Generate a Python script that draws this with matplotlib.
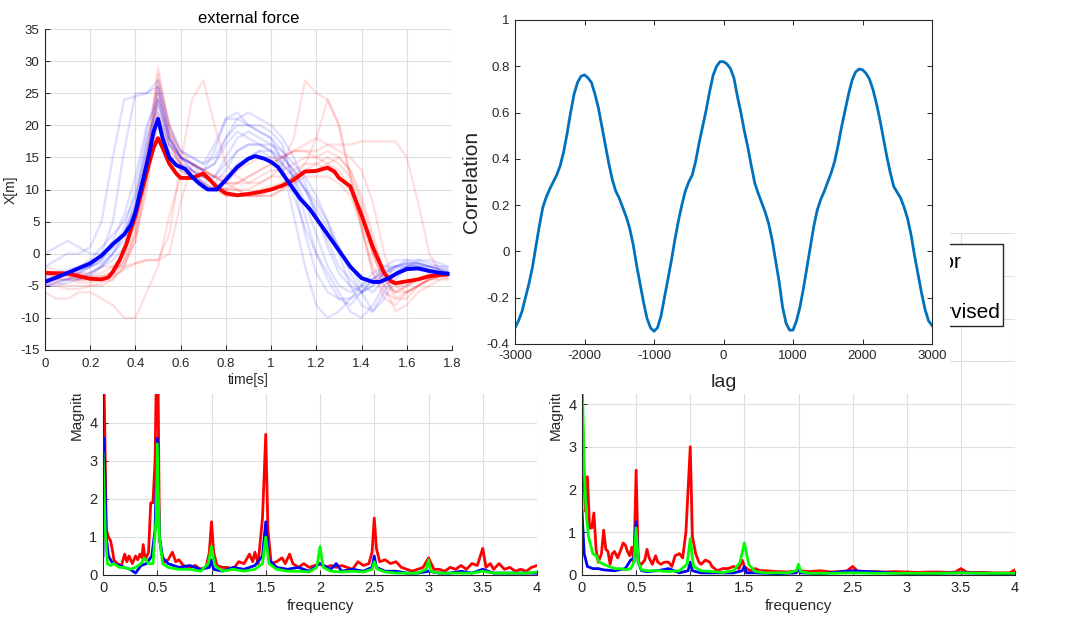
import matplotlib
matplotlib.use('Agg')
import matplotlib.pyplot as plt
from matplotlib.patches import Rectangle
from matplotlib.ticker import FuncFormatter

W, H = 1069, 622
plt.rcParams['font.family'] = ['Liberation Sans', 'DejaVu Sans']

# ---------------- top-left: external force ----------------
T_MEAN_BLUE = [0, 0.1, 0.2, 0.25, 0.3, 0.35, 0.38, 0.4, 0.43, 0.46, 0.48, 0.5, 0.52, 0.55, 0.58,
               0.62, 0.65, 0.68, 0.72, 0.76, 0.8, 0.85, 0.9, 0.93, 0.97, 1.0, 1.03, 1.07, 1.1,
               1.13, 1.17, 1.2, 1.25, 1.3, 1.35, 1.4, 1.45, 1.48, 1.52, 1.56, 1.6, 1.65, 1.7,
               1.75, 1.78]
X_MEAN_BLUE = [-4.4, -3.0, -1.5, -0.3, 1.5, 3.0, 4.5, 6.5, 11, 15.5, 19, 21, 18, 15, 13.8,
               13.2, 12, 11, 10, 10, 11.5, 13.5, 14.8, 15.2, 14.8, 14.3, 13.5, 11.5, 10,
               8.5, 7, 5.5, 3, 0.5, -2, -3.8, -4.4, -4.4, -3.8, -3.0, -2.4, -2.3, -2.7,
               -3.0, -3.1]

T_MEAN_RED = [0, 0.1, 0.15, 0.2, 0.25, 0.28, 0.3, 0.33, 0.36, 0.4, 0.43, 0.46, 0.48, 0.5, 0.52,
              0.55, 0.58, 0.6, 0.65, 0.68, 0.7, 0.73, 0.76, 0.8, 0.85, 0.9, 0.95, 1.0, 1.05,
              1.1, 1.15, 1.2, 1.25, 1.28, 1.3, 1.35, 1.4, 1.45, 1.5, 1.53, 1.55, 1.6, 1.65,
              1.7, 1.75, 1.78]
X_MEAN_RED = [-3, -3.1, -3.5, -3.9, -4.0, -3.7, -2.8, -1, 1.5, 6, 10, 14, 16.5, 18, 16.5,
              14, 12.5, 11.8, 11.8, 12.2, 12.5, 11.5, 10.3, 9.4, 9.1, 9.3, 9.6, 10, 10.6,
              11.5, 12.8, 12.9, 13.4, 12.8, 11.8, 10.5, 6, 1, -3, -4.3, -4.6, -4.3, -4,
              -3.5, -3.3, -3.2]

T_TRIAL = [0, 0.05, 0.1, 0.15, 0.2, 0.25, 0.3, 0.35, 0.4, 0.45, 0.5, 0.55, 0.6, 0.65, 0.7,
           0.75, 0.8, 0.85, 0.9, 0.95, 1.0, 1.05, 1.1, 1.15, 1.2, 1.25, 1.3, 1.35, 1.4, 1.45,
           1.5, 1.55, 1.6, 1.65, 1.7, 1.75, 1.78]

BLUE_TRIALS = [
    [-2, -1, 0, 0, 1, 5, 15, 24, 24.5, 25, 27, 20, 16, 15, 14, 15, 18, 20, 20, 19, 18, 16, 12, 6, 0, -4, -7, -8, -6, -4, -2, -1, -1, -1.5, -2, -2, -2],
    [-4, -4, -3, -3, -2, 0, 5, 16, 25, 25, 26, 18, 15, 14, 13, 16, 21, 22, 20, 19, 18, 14, 6, -2, -8, -10, -9, -7, -5, -3, -2, -2, -2, -2, -2.5, -3, -3],
    [-5, -4.5, -4, -3, -2, -1, 2, 6, 12, 20, 24, 17, 15, 14, 12, 11, 13, 16, 17, 17, 16, 14, 12, 8, 3, -2, -5, -6, -5, -4, -3, -2.5, -2, -2, -2.5, -3, -3],
    [-3, -3, -2.5, -2, -1, 1, 3, 5, 9, 16, 22, 16, 14, 13, 11, 12, 15, 18, 19, 18, 17, 15, 13, 10, 6, 2, -2, -4, -6, -5, -3, -2, -1.5, -1.5, -2, -2.5, -3],
    [0, 1, 2, 1, 0, 0, 1, 3, 8, 18, 23, 18, 15, 14, 13, 14, 17, 19, 18, 17, 16, 13, 9, 4, 0, -3, -6, -9, -10, -8, -5, -3, -2, -1, -1, -1.5, -2],
    [-5, -5, -4.5, -4, -3.5, -2, 0, 3, 7, 14, 21, 17, 15, 13, 11, 10, 12, 14, 15, 16, 16, 15, 13, 10, 7, 4, 1, -2, -5, -6, -4, -2, -1, -1, -1.5, -2, -2.5],
    [-4, -3.5, -3, -2.5, -2, -1, 1, 4, 10, 19, 26, 19, 16, 15, 14, 17, 21, 21, 20, 20, 19, 17, 11, 3, -3, -6, -7, -7, -6, -4, -2.5, -2, -1.5, -2, -2, -2.5, -3],
    [-4.5, -4, -4, -3.5, -3, -2, -1, 1, 5, 13, 20, 15, 13, 12, 10, 10, 11, 13, 15, 16, 15, 14, 12, 10, 8, 5, 1, -3, -6, -9, -7, -4, -2, -1.5, -2, -2.5, -3],
    [-3.5, -3, -3, -2.5, -2, -1.5, 0, 2, 6, 15, 25, 18, 15, 14, 13, 14, 18, 21, 22, 21, 20, 18, 15, 11, 6, 1, -3, -5, -6, -5, -3, -2, -1.5, -1.5, -2, -2.5, -2.5],
    [-5, -4.5, -4, -4, -3, -2, 0, 3, 8, 17, 24, 18, 15, 13, 12, 12, 14, 16, 17, 17, 17, 16, 14, 12, 9, 5, 0, -5, -8, -9, -6, -3, -2, -2, -2.5, -3, -3.5],
]

RED_TRIALS = [
    [-4, -4, -4, -4.5, -4.5, -4, -3, 0, 6, 16, 28, 20, 15, 14, 13, 12, 12, 13, 14, 15, 15, 15, 16, 16, 15, 14, 13, 10, 4, -3, -7, -8, -6, -5, -4, -3.5, -3],
    [-3, -3, -3, -3, -3, -2, -2, -2, -1.5, -1, -1, 3, 14, 24, 27, 20, 14, 12, 11, 11, 12, 12, 13, 14, 14, 13, 12, 10, 6, 0, -4, -6, -5, -4, -3, -3, -3],
    [-2, -2.5, -3, -3, -3.5, -3.5, -3, -1, 3, 12, 24, 17, 14, 13, 12, 11, 10, 10, 10, 11, 12, 14, 18, 27, 25, 24, 20, 12, 4, -2, -5, -6, -5, -4, -3.5, -3, -3],
    [-5, -5, -5.5, -5.5, -5, -5, -4, -2, 2, 10, 22, 17, 14, 12, 11, 10, 10, 11, 12, 13, 14, 15, 16, 16, 16, 17, 17, 17, 17.5, 17.5, 17.5, 17.5, 15, 8, 0, -3, -4],
    [-6, -7, -7, -6, -6, -7, -8, -10, -10, -6, -2, 6, 12, 13, 12, 11, 10, 10, 9, 9, 9, 10, 11, 12, 12, 12, 11, 9, 5, 0, -4, -6, -6, -5, -4, -4, -4],
    [-3, -3.5, -3.5, -4, -4, -4, -3.5, -1, 4, 14, 26, 18, 13, 12, 12, 11, 9, 9, 9, 9, 10, 11, 12, 13, 13, 14, 15, 13, 8, 2, -3, -5, -5, -4, -3.5, -3, -3],
    [-4, -4, -4, -4, -4, -4, -3.5, -2.5, -1.5, -1, -1, 0, 8, 14, 13, 12, 11, 10, 9, 9, 9, 10, 12, 14, 18, 24, 20, 12, 4, -3, -6, -7, -6, -5, -4, -3.5, -3.5],
    [-4.5, -4.5, -5, -5, -5, -4.5, -4, -2, 3, 13, 29, 19, 14, 12, 11, 10, 9, 9, 9.5, 10, 10.5, 11, 12, 13, 14, 15, 14, 12, 7, 0, -5, -9, -8, -6, -5, -4, -3.5],
    [-3.5, -3.5, -3.5, -4, -4, -3.5, -3, -1.5, 2, 11, 25, 19, 15, 14, 13, 12, 11, 11, 12, 13, 14, 15, 16, 17, 18, 17, 16, 15, 13, 8, 0, -5, -6, -5, -4, -3.5, -3],
    [-2.5, -3, -3, -3.5, -3.5, -3, -2, 0, 5, 15, 27, 20, 16, 14, 13, 12, 11, 11, 11, 12, 13, 13, 14, 15, 15, 16, 15, 13, 9, 3, -3, -7, -7, -5, -4, -3.5, -3],
]

# ---------------- top-right: correlation (sampled every 50 lags) ----------------
LAG = list(range(-3000, 3001, 50))
CORR = [
    -0.33, -0.30, -0.26, -0.20, -0.14, -0.07, 0.02, 0.11, 0.19, 0.235,          # -3000..-2550
    0.27, 0.30, 0.33, 0.37, 0.43, 0.51, 0.60, 0.68, 0.73, 0.757,               # -2500..-2050
    0.763, 0.75, 0.73, 0.68, 0.62, 0.54, 0.46, 0.38, 0.31, 0.26,               # -2000..-1550
    0.23, 0.19, 0.15, 0.10, 0.03, -0.06, -0.14, -0.22, -0.29, -0.33,           # -1500..-1050
    -0.345, -0.33, -0.28, -0.20, -0.12, -0.04, 0.05, 0.13, 0.20, 0.26,         # -1000..-550
    0.30, 0.33, 0.39, 0.47, 0.54, 0.61, 0.69, 0.76, 0.80, 0.82,                # -500..-50
    0.82,                                                                       # 0
    0.81, 0.79, 0.75, 0.67, 0.60, 0.52, 0.45, 0.37, 0.295, 0.25,               # 50..500
    0.21, 0.17, 0.12, 0.05, -0.04, -0.13, -0.24, -0.31, -0.34, -0.34,          # 550..1000
    -0.30, -0.24, -0.16, -0.07, 0.02, 0.11, 0.18, 0.225, 0.26, 0.30,           # 1050..1500
    0.34, 0.39, 0.46, 0.54, 0.61, 0.68, 0.74, 0.775, 0.788, 0.785,             # 1550..2000
    0.77, 0.745, 0.70, 0.64, 0.57, 0.49, 0.41, 0.34, 0.28, 0.255,              # 2050..2500
    0.23, 0.19, 0.14, 0.07, -0.02, -0.10, -0.18, -0.25, -0.30, -0.32,          # 2550..3000
]

# ---------------- bottom-left spectrum ----------------
BL_RED_F = [0, 0.01, 0.03, 0.05, 0.07, 0.09, 0.1, 0.13, 0.17, 0.2, 0.22, 0.24, 0.27, 0.3, 0.32,
            0.34, 0.36, 0.37, 0.39, 0.42, 0.44, 0.46, 0.48, 0.495, 0.505, 0.52, 0.54, 0.57,
            0.6, 0.64, 0.67, 0.7, 0.74, 0.8, 0.85, 0.9, 0.95, 0.98, 1.0, 1.02, 1.05, 1.1,
            1.15, 1.2, 1.25, 1.3, 1.35, 1.38, 1.4, 1.43, 1.47, 1.5, 1.52, 1.55, 1.6, 1.65,
            1.68, 1.72, 1.75, 1.8, 1.85, 1.9, 1.95, 2.0, 2.05, 2.1, 2.15, 2.2, 2.25, 2.3,
            2.35, 2.4, 2.45, 2.48, 2.5, 2.52, 2.55, 2.6, 2.65, 2.7, 2.75, 2.8, 2.85, 2.9,
            2.95, 3.0, 3.05, 3.1, 3.15, 3.2, 3.25, 3.3, 3.35, 3.4, 3.45, 3.5, 3.53, 3.57,
            3.6, 3.65, 3.7, 3.75, 3.8, 3.85, 3.9, 3.95, 4.0]
BL_RED_M = [6.0, 5.0, 1.2, 1.0, 0.9, 0.6, 0.4, 0.3, 0.25, 0.55, 0.35, 0.5, 0.3, 0.5, 0.4,
            0.55, 0.45, 0.8, 0.4, 0.6, 1.9, 1.9, 3.0, 6.0, 6.0, 1.0, 0.55, 0.35,
            0.4, 0.6, 0.35, 0.4, 0.25, 0.2, 0.25, 0.15, 0.2, 0.6, 1.4, 0.6, 0.25, 0.2,
            0.2, 0.15, 0.35, 0.3, 0.55, 0.35, 0.6, 0.3, 1.5, 3.7, 1.2, 0.3, 0.35, 0.45,
            0.3, 0.55, 0.3, 0.2, 0.3, 0.2, 0.25, 0.3, 0.2, 0.25, 0.2, 0.25, 0.2, 0.15,
            0.35, 0.25, 0.3, 0.6, 1.5, 0.7, 0.35, 0.4, 0.3, 0.35, 0.2, 0.15, 0.1, 0.15,
            0.2, 0.45, 0.15, 0.15, 0.1, 0.2, 0.15, 0.25, 0.15, 0.3, 0.25, 0.7, 0.2, 0.3,
            0.15, 0.3, 0.15, 0.2, 0.1, 0.15, 0.1, 0.2, 0.25]

BL_BLUE_F = [0, 0.01, 0.03, 0.05, 0.08, 0.1, 0.15, 0.2, 0.25, 0.3, 0.35, 0.4, 0.45, 0.48, 0.5,
             0.52, 0.55, 0.6, 0.65, 0.7, 0.8, 0.9, 0.98, 1.0, 1.02, 1.1, 1.2, 1.3, 1.4, 1.47,
             1.5, 1.53, 1.6, 1.7, 1.8, 1.9, 2.0, 2.1, 2.15, 2.2, 2.3, 2.4, 2.48, 2.5, 2.52,
             2.6, 2.7, 2.8, 2.9, 3.0, 3.1, 3.2, 3.3, 3.4, 3.5, 3.6, 3.7, 3.8, 3.9, 4.0]
BL_BLUE_M = [0.5, 3.6, 1.0, 0.5, 0.35, 0.3, 0.25, 0.2, 0.15, 0.05, 0.25, 0.3, 0.5, 1.2, 3.6,
             1.0, 0.45, 0.3, 0.25, 0.2, 0.25, 0.15, 0.2, 0.4, 0.15, 0.1, 0.2, 0.15, 0.25, 0.5,
             1.4, 0.4, 0.2, 0.15, 0.2, 0.1, 0.3, 0.15, 0.3, 0.1, 0.15, 0.1, 0.2, 0.5, 0.2,
             0.1, 0.1, 0.05, 0.05, 0.1, 0.05, 0.05, 0.1, 0.05, 0.15, 0.05, 0.05, 0.05, 0.05, 0.05]

BL_GREEN_F = [0, 0.02, 0.04, 0.07, 0.1, 0.15, 0.2, 0.25, 0.3, 0.35, 0.38, 0.42, 0.46, 0.49, 0.5,
              0.52, 0.55, 0.6, 0.7, 0.8, 0.9, 0.97, 1.0, 1.03, 1.1, 1.2, 1.3, 1.4, 1.47, 1.5,
              1.53, 1.6, 1.7, 1.8, 1.9, 1.97, 2.0, 2.03, 2.1, 2.2, 2.3, 2.4, 2.48, 2.5, 2.53,
              2.6, 2.7, 2.8, 2.9, 2.98, 3.0, 3.02, 3.1, 3.2, 3.3, 3.4, 3.5, 3.6, 3.7, 3.8,
              3.9, 4.0]
BL_GREEN_M = [3.2, 1.2, 0.3, 0.25, 0.3, 0.2, 0.2, 0.15, 0.2, 0.3, 0.45, 0.3, 0.3, 1.5, 3.45,
              1.0, 0.3, 0.2, 0.15, 0.15, 0.1, 0.3, 0.75, 0.25, 0.1, 0.15, 0.1, 0.15, 0.3, 1.0,
              0.3, 0.15, 0.1, 0.1, 0.08, 0.2, 0.75, 0.2, 0.1, 0.08, 0.1, 0.08, 0.15, 0.35, 0.15,
              0.08, 0.05, 0.05, 0.05, 0.15, 0.4, 0.1, 0.05, 0.05, 0.05, 0.05, 0.1, 0.05, 0.05, 0.05,
              0.05, 0.08]

# ---------------- bottom-right spectrum ----------------
BR_RED_F = [0, 0.01, 0.03, 0.05, 0.07, 0.09, 0.11, 0.13, 0.15, 0.18, 0.2, 0.22, 0.24, 0.26,
            0.28, 0.3, 0.33, 0.36, 0.38, 0.4, 0.42, 0.44, 0.46, 0.48, 0.5, 0.52, 0.55, 0.58,
            0.6, 0.62, 0.65, 0.68, 0.7, 0.73, 0.76, 0.8, 0.83, 0.86, 0.9, 0.93, 0.96, 1.0,
            1.02, 1.05, 1.08, 1.1, 1.14, 1.18, 1.2, 1.25, 1.3, 1.35, 1.4, 1.45, 1.48, 1.5,
            1.55, 1.6, 1.65, 1.7, 1.8, 1.9, 2.0, 2.1, 2.2, 2.3, 2.4, 2.45, 2.5, 2.55, 2.6,
            2.7, 2.8, 2.9, 3.0, 3.1, 3.2, 3.3, 3.4, 3.45, 3.5, 3.55, 3.6, 3.7, 3.8, 3.9,
            3.95, 4.0]
BR_RED_M = [4.2, 3.0, 1.5, 2.3, 1.1, 1.1, 1.45, 0.6, 0.3, 0.5, 1.05, 0.6, 0.55, 0.25,
            0.5, 0.55, 0.4, 0.6, 0.75, 0.7, 0.55, 0.45, 0.65, 0.3, 2.45, 0.3, 0.25, 0.35,
            0.6, 0.4, 0.25, 0.45, 0.3, 0.25, 0.3, 0.3, 0.2, 0.45, 0.5, 0.4, 1.0, 3.0,
            0.9, 0.5, 0.3, 0.25, 0.35, 0.3, 0.2, 0.1, 0.15, 0.15, 0.2, 0.15, 0.35, 0.2,
            0.1, 0.15, 0.1, 0.1, 0.08, 0.07, 0.1, 0.08, 0.1, 0.07, 0.08, 0.1, 0.2, 0.08, 0.07,
            0.08, 0.07, 0.08, 0.07, 0.06, 0.07, 0.07, 0.06, 0.07, 0.15, 0.07, 0.06, 0.06, 0.05, 0.05,
            0.05, 0.12]

BR_BLUE_F = [0, 0.02, 0.05, 0.1, 0.15, 0.2, 0.3, 0.4, 0.45, 0.48, 0.5, 0.52, 0.55, 0.6, 0.7,
             0.8, 0.9, 0.98, 1.0, 1.02, 1.1, 1.2, 1.3, 1.4, 1.48, 1.5, 1.52, 1.6, 1.8, 1.98,
             2.0, 2.02, 2.2, 2.5, 3.0, 3.5, 4.0]
BR_BLUE_M = [1.5, 0.5, 0.2, 0.15, 0.15, 0.12, 0.1, 0.15, 0.35, 0.4, 1.25, 0.3, 0.1, 0.08, 0.1,
             0.15, 0.05, 0.1, 0.3, 0.1, 0.05, 0.05, 0.05, 0.05, 0.1, 0.2, 0.05, 0.05, 0.03, 0.05,
             0.15, 0.05, 0.03, 0.1, 0.03, 0.05, 0.03]

BR_GREEN_F = [0, 0.005, 0.02, 0.04, 0.06, 0.08, 0.1, 0.13, 0.16, 0.2, 0.25, 0.3, 0.35, 0.4,
              0.45, 0.48, 0.5, 0.52, 0.55, 0.6, 0.7, 0.8, 0.9, 0.97, 1.0, 1.03, 1.1, 1.2, 1.3,
              1.4, 1.46, 1.5, 1.54, 1.6, 1.7, 1.8, 1.9, 1.98, 2.0, 2.02, 2.1, 2.3, 2.5, 2.7,
              3.0, 3.3, 3.5, 3.7, 4.0]
BR_GREEN_M = [3.0, 4.25, 2.5, 1.4, 0.9, 0.7, 0.5, 0.45, 0.3, 0.25, 0.2, 0.15, 0.15, 0.12,
              0.15, 0.3, 1.1, 0.3, 0.12, 0.1, 0.1, 0.08, 0.1, 0.25, 0.85, 0.2, 0.1, 0.08, 0.06,
              0.1, 0.3, 0.75, 0.25, 0.08, 0.05, 0.05, 0.05, 0.1, 0.25, 0.08, 0.04, 0.04, 0.05, 0.04,
              0.04, 0.04, 0.05, 0.04, 0.04]

LEGEND_LABELS = ['error', 'supervised']

# ---------------- drawing ----------------
DARK = '#262626'
GRID = '#dedede'

fig = plt.figure(figsize=(W / 100, H / 100), dpi=100)


def box(x0, y0, x1, y1):
    return [x0 / W, 1 - y1 / H, (x1 - x0) / W, (y1 - y0) / H]


def gfmt(v, pos):
    return f'{v:g}'


def low_fmt(v, pos):
    return f'{v:g}' if v <= 4 else ''


def matlab_axes(ax, tick_size, all_sides=False):
    ax.tick_params(direction='in', length=3.5, width=0.7, colors=DARK, labelsize=tick_size,
                   top=all_sides, right=all_sides, pad=4)
    for s in ax.spines.values():
        s.set_color(DARK)
        s.set_linewidth(0.8)
    if not all_sides:
        ax.spines['top'].set_visible(False)
        ax.spines['right'].set_visible(False)
    ax.xaxis.set_major_formatter(FuncFormatter(gfmt))
    ax.yaxis.set_major_formatter(FuncFormatter(gfmt))


def spectrum_axes(rect, ymax, series):
    ax = fig.add_axes(rect)
    ax.set_zorder(0)
    for f, m, c in series:
        ax.plot(f, m, color=c, lw=2.0)
    ax.set_xlim(0, 4)
    ax.set_ylim(0, ymax)
    ax.set_xticks([0, 0.5, 1, 1.5, 2, 2.5, 3, 3.5, 4])
    ax.set_yticks(range(0, ymax + 1))
    ax.grid(True, color=GRID, lw=0.8)
    ax.set_axisbelow(True)
    matlab_axes(ax, 10.5)
    ax.yaxis.set_major_formatter(FuncFormatter(low_fmt))
    ax.set_xlabel('frequency', fontsize=11, color=DARK, labelpad=3)
    ax.set_ylabel('Magnitude', fontsize=11, color=DARK, labelpad=4)
    return ax


axbl = spectrum_axes(box(103, 233, 537, 575), 9,
                     [(BL_RED_F, BL_RED_M, '#ff0000'), (BL_BLUE_F, BL_BLUE_M, '#0000ff'),
                      (BL_GREEN_F, BL_GREEN_M, '#00ff00')])
axbr = spectrum_axes(box(582, 233, 1015, 575), 8,
                     [(BR_RED_F, BR_RED_M, '#ff0000'), (BR_BLUE_F, BR_BLUE_M, '#0000ff'),
                      (BR_GREEN_F, BR_GREEN_M, '#00ff00')])

# partially hidden legend of the bottom-right plot
x0, y0, x1, y1 = 880, 244, 1003, 326
fig.add_artist(Rectangle((x0 / W, 1 - y1 / H), (x1 - x0) / W, (y1 - y0) / H,
                         transform=fig.transFigure, facecolor='white', edgecolor=DARK,
                         lw=1.0, zorder=0.5))
fig.text(961 / W, 1 - 262 / H, LEGEND_LABELS[0], ha='right', va='center', fontsize=15,
         color='black', zorder=0.6)
fig.text(1000 / W, 1 - 313 / H, LEGEND_LABELS[1], ha='right', va='center', fontsize=15,
         color='black', zorder=0.6)

# white cover (the upper images pasted over the spectrum figure)
fig.add_artist(Rectangle((0, 1 - 394 / H), 950 / W, 394 / H, transform=fig.transFigure,
                         facecolor='white', edgecolor='none', zorder=1))
fig.add_artist(Rectangle((950 / W, 1 - 232 / H), (W - 950) / W, 232 / H,
                         transform=fig.transFigure, facecolor='white', edgecolor='none',
                         zorder=1))

# top-left
ax1 = fig.add_axes(box(45, 29, 452, 350))
ax1.set_zorder(2)
for tr in RED_TRIALS:
    ax1.plot(T_TRIAL, tr, color='#ff0000', alpha=0.12, lw=1.7)
for tr in BLUE_TRIALS:
    ax1.plot(T_TRIAL, tr, color='#0000ff', alpha=0.12, lw=1.7)
ax1.plot(T_MEAN_RED, X_MEAN_RED, color='#ff0000', lw=2.8)
ax1.plot(T_MEAN_BLUE, X_MEAN_BLUE, color='#0000ff', lw=2.8)
ax1.set_xlim(0, 1.8)
ax1.set_ylim(-15, 35)
ax1.set_xticks([0, 0.2, 0.4, 0.6, 0.8, 1.0, 1.2, 1.4, 1.6, 1.8])
ax1.set_yticks(range(-15, 36, 5))
ax1.grid(True, color=GRID, lw=0.8)
ax1.set_axisbelow(True)
matlab_axes(ax1, 9.5)
ax1.tick_params(axis='x', pad=6)
ax1.set_title('external force', fontsize=12, color='black', pad=4)
ax1.set_xlabel('time[s]', fontsize=10, color=DARK, labelpad=2)
ax1.set_ylabel('X[m]', fontsize=10, color=DARK, labelpad=2)

# top-right
ax2 = fig.add_axes(box(515, 20, 932, 344))
ax2.set_zorder(2)
ax2.plot(LAG, CORR, color='#0072BD', lw=2.0)
ax2.set_xlim(-3000, 3000)
ax2.set_ylim(-0.4, 1.0)
ax2.set_xticks([-3000, -2000, -1000, 0, 1000, 2000, 3000])
ax2.set_yticks([-0.4, -0.2, 0, 0.2, 0.4, 0.6, 0.8, 1.0])
matlab_axes(ax2, 9.5, all_sides=True)
ax2.set_xlabel('lag', fontsize=14, color=DARK, labelpad=9)
ax2.set_ylabel('Correlation', fontsize=15, color=DARK, labelpad=4)

fig.savefig('out.png', dpi=100, facecolor='white')
